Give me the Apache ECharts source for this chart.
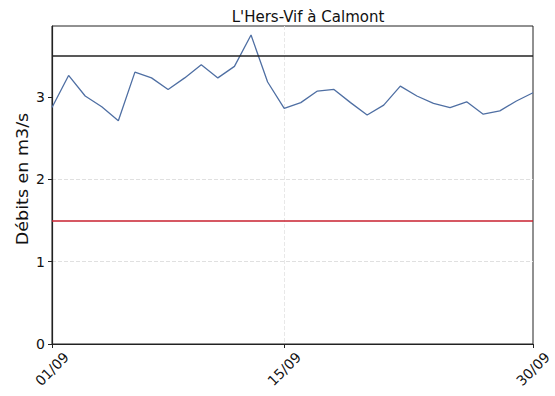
<!DOCTYPE html>
<html><head><meta charset="utf-8">
<script src="https://cdn.jsdelivr.net/npm/echarts@6/dist/echarts.min.js"></script>
<style>html,body{margin:0;padding:0;background:#fff}#c{width:555px;height:396px}</style>
</head><body><div id="c"></div>
<script>
const days = ['01/09','02/09','03/09','04/09','05/09','06/09','07/09','08/09','09/09','10/09','11/09','12/09','13/09','14/09','15/09','16/09','17/09','18/09','19/09','20/09','21/09','22/09','23/09','24/09','25/09','26/09','27/09','28/09','29/09','30/09'];
const debits = [2.87,3.26,3.01,2.88,2.71,3.30,3.23,3.09,3.23,3.39,3.23,3.37,3.75,3.18,2.86,2.93,3.07,3.09,2.93,2.78,2.90,3.13,3.01,2.92,2.87,2.94,2.79,2.83,2.95,3.05];
const shownLabels = ['01/09','15/09','30/09'];
const seuilHaut = 3.5;
const seuilBas = 1.5;
const yTicks = [0,1,2,3];
const titre = "L'Hers-Vif à Calmont";
const titreAxeY = 'Débits en m3/s';

const font = 'DejaVu Sans';
const chart = echarts.init(document.getElementById('c'), null, {renderer: 'svg'});
const show = (i) => shownLabels.indexOf(days[i]) >= 0;
const showGrid = (i) => show(i) && i > 0 && i < days.length - 1;
chart.setOption({
  animation: false,
  title: {text: titre, left: 303, textAlign: 'center', top: 4,
    textStyle: {fontFamily: font, fontSize: 15, fontWeight: 'normal', color: '#111'}},
  graphic: [
    {type: 'text', x: 23, y: 179, rotation: Math.PI / 2, scaleY: 0.87,
      style: {text: titreAxeY, font: '17.5px "DejaVu Sans"', fill: '#111',
        align: 'center', verticalAlign: 'middle', textAlign: 'center', textVerticalAlign: 'middle'}}
  ],
  grid: {left: 52, right: 22, top: 26, bottom: 52, show: true, borderColor: '#222', borderWidth: 1},
  xAxis: {type: 'category', data: days, boundaryGap: false,
    axisLine: {lineStyle: {color: '#222', width: 1.2}},
    axisTick: {interval: show, length: 4, lineStyle: {color: '#222'}},
    axisLabel: {interval: show, rotate: 45, align: 'center', verticalAlign: 'middle', margin: 25,
      fontFamily: font, fontSize: 14, color: '#111'},
    splitLine: {show: true, interval: showGrid, lineStyle: {color: '#e8e8e8', type: 'dashed'}}},
  yAxis: {type: 'value', min: 0, max: 3.86, interval: 1,
    axisLine: {show: true, lineStyle: {color: '#222', width: 1.2}},
    axisTick: {show: true, length: 4, customValues: yTicks, lineStyle: {color: '#222'}},
    axisLabel: {fontFamily: font, fontSize: 14, color: '#111', margin: 7, customValues: yTicks,
      formatter: v => String(v)},
    splitLine: {show: true, showMaxLine: false, showMinLine: false, lineStyle: {color: '#e0e0e0', type: 'dashed'}}},
  series: [{type: 'line', data: debits, symbol: 'none',
    lineStyle: {color: '#4f6fa3', width: 1.3},
    markLine: {silent: true, symbol: 'none', label: {show: false},
      data: [
        {yAxis: seuilHaut, lineStyle: {color: '#222', width: 1.6, type: 'solid'}},
        {yAxis: seuilBas, lineStyle: {color: '#c8202f', width: 1.6, type: 'solid'}}
      ]}}]
});
</script></body></html>
